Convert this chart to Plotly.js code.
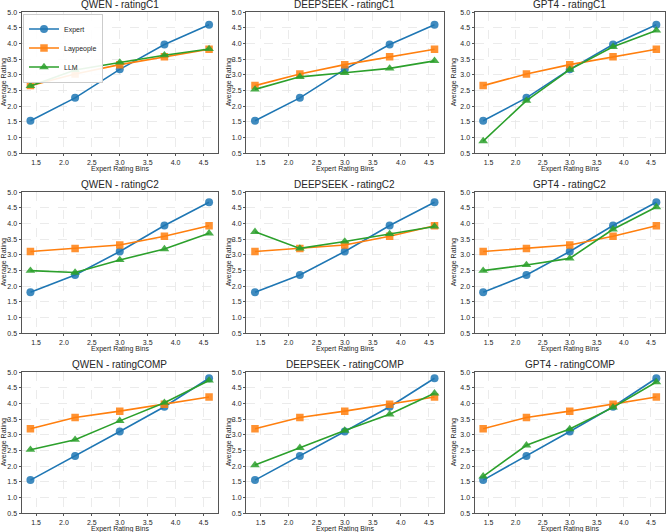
<!DOCTYPE html>
<html>
<head>
<meta charset="utf-8">
<script src="https://cdn.plot.ly/plotly-3.0.1.min.js"></script>
<style>html,body{margin:0;padding:0;background:#fff;}#chart{width:670px;height:532px;}</style>
</head>
<body>
<div id="chart"></div>
<script>
// ---- data ----
const bins = [1.4, 2.2, 3.0, 3.8, 4.6];
const models = ["QWEN", "DEEPSEEK", "GPT4"];
const metrics = ["ratingC1", "ratingC2", "ratingCOMP"];

const expertC1 = [1.54, 2.27, 3.18, 3.97, 4.60];
const expertC2 = [1.81, 2.36, 3.11, 3.94, 4.68];
const expertCOMP = [1.56, 2.33, 3.11, 3.90, 4.81];

const laypeopleC1 = [2.66, 3.03, 3.33, 3.58, 3.82];
const laypeopleC2 = [3.11, 3.21, 3.32, 3.60, 3.93];
const laypeopleCOMP = [3.20, 3.56, 3.76, 3.98, 4.21];

const llmQwenC1 = [2.65, 3.16, 3.40, 3.63, 3.83];
const llmDeepseekC1 = [2.54, 2.94, 3.07, 3.21, 3.45];
const llmGpt4C1 = [0.89, 2.18, 3.17, 3.90, 4.42];

const llmQwenC2 = [2.50, 2.44, 2.84, 3.19, 3.69];
const llmDeepseekC2 = [3.74, 3.21, 3.43, 3.67, 3.91];
const llmGpt4C2 = [2.50, 2.68, 2.89, 3.82, 4.53];

const llmQwenCOMP = [2.53, 2.85, 3.45, 4.03, 4.74];
const llmDeepseekCOMP = [2.04, 2.59, 3.14, 3.66, 4.33];
const llmGpt4COMP = [1.68, 2.67, 3.19, 3.88, 4.69];

const yTicks = [0.5, 1.0, 1.5, 2.0, 2.5, 3.0, 3.5, 4.0, 4.5, 5.0];
const xTicks = [1.5, 2.0, 2.5, 3.0, 3.5, 4.0, 4.5];

const expertByMetric = [expertC1, expertC2, expertCOMP];
const layByMetric = [laypeopleC1, laypeopleC2, laypeopleCOMP];
const llmByMetric = [
  [llmQwenC1, llmDeepseekC1, llmGpt4C1],
  [llmQwenC2, llmDeepseekC2, llmGpt4C2],
  [llmQwenCOMP, llmDeepseekCOMP, llmGpt4COMP]
];

// ---- layout geometry ----
const W = 670, H = 532;
const colPx = [[21.5, 218], [246, 443.5], [474.5, 665]];
const rowPx = [[12.3, 153.3], [192.3, 333.3], [372.3, 513.3]];
const yTitleX = [3.5, 228.5, 453.5];

const colors = {expert: "#1f77b4", lay: "#ff7f0e", llm: "#2ca02c"};
const fontFam = "Liberation Sans, Arial, sans-serif";
const txt = "#262626";

const traces = [];
const layout = {
  width: W, height: H,
  margin: {l: 0, r: 0, t: 0, b: 0},
  paper_bgcolor: "#fff", plot_bgcolor: "#fff",
  font: {family: fontFam, color: txt, size: 8},
  showlegend: true,
  legend: {
    x: 23 / W, y: 1 - 13.5 / H, xanchor: "left", yanchor: "top",
    bgcolor: "rgba(255,255,255,0.9)", bordercolor: "#cccccc", borderwidth: 1,
    font: {size: 7, family: fontFam, color: txt},
    itemwidth: 30, tracegroupgap: 0
  },
  annotations: []
};

for (let r = 0; r < 3; r++) {
  for (let c = 0; c < 3; c++) {
    const idx = r * 3 + c + 1;
    const xa = idx === 1 ? "x" : "x" + idx;
    const ya = idx === 1 ? "y" : "y" + idx;
    const first = idx === 1;
    const mk = (name, y, color, symbol, size) => ({
      type: "scatter", mode: "lines+markers", name: name,
      x: bins, y: y, xaxis: xa, yaxis: ya,
      line: {color: color, width: 1.6},
      marker: {color: color, symbol: symbol, size: size, opacity: 0.85},
      showlegend: first, legendgroup: name
    });
    traces.push(mk("Expert", expertByMetric[r], colors.expert, "circle", 8));
    traces.push(mk("Laypeople", layByMetric[r], colors.lay, "square", 7.5));
    traces.push(mk("LLM", llmByMetric[r][c], colors.llm, "triangle-up", 8.5));

    const xd = [colPx[c][0] / W, colPx[c][1] / W];
    const yd = [1 - rowPx[r][1] / H, 1 - rowPx[r][0] / H];
    const axCommon = {
      showline: true, mirror: true, linecolor: "#555555", linewidth: 1,
      showgrid: true, gridcolor: "#e6e6e6", griddash: "dash", gridwidth: 0.8,
      zeroline: false, ticks: "outside", ticklen: 2, tickcolor: "#555555",
      tickfont: {size: 7, family: fontFam, color: txt}, automargin: false
    };
    layout["xaxis" + (idx === 1 ? "" : idx)] = Object.assign({}, axCommon, {
      domain: xd, anchor: ya, range: [1.24, 4.76],
      tickvals: xTicks, ticktext: xTicks.map(v => v.toFixed(1))
    });
    layout["yaxis" + (idx === 1 ? "" : idx)] = Object.assign({}, axCommon, {
      domain: yd, anchor: xa, range: [0.5, 5.0],
      tickvals: yTicks, ticktext: yTicks.map(v => v.toFixed(1))
    });
    // subplot title
    layout.annotations.push({
      text: models[c] + " - " + metrics[r], xref: "paper", yref: "paper",
      x: (xd[0] + xd[1]) / 2, y: yd[1], xanchor: "center", yanchor: "middle",
      yshift: 8, showarrow: false, font: {size: 10, family: fontFam, color: txt}
    });
    // x axis title
    layout.annotations.push({
      text: "Expert Rating Bins", xref: "paper", yref: "paper",
      x: (xd[0] + xd[1]) / 2, y: yd[0], xanchor: "center", yanchor: "middle",
      yshift: -15.5, showarrow: false, font: {size: 7, family: fontFam, color: txt}
    });
    // y axis title
    layout.annotations.push({
      text: "Average Rating", xref: "paper", yref: "paper",
      x: yTitleX[c] / W, y: (yd[0] + yd[1]) / 2, xanchor: "center", yanchor: "middle",
      textangle: -90, showarrow: false, font: {size: 7, family: fontFam, color: txt}
    });
  }
}

Plotly.newPlot("chart", traces, layout, {displayModeBar: false, staticPlot: true});
</script>
</body>
</html>
